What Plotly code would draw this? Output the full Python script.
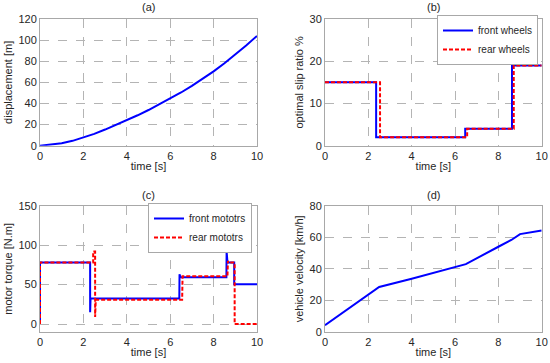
import plotly.graph_objects as go

W, H = 550, 363

# ---------------- data ----------------
# (a) displacement
disp_t = [0, 0.5, 1, 1.5, 2, 2.5, 3, 3.5, 4, 4.5, 5, 5.5, 6, 6.5, 7, 7.5, 8, 8.5, 9, 9.5, 10]
disp_m = [0, 0.8, 2.3, 4.6, 7.6, 11.2, 15.3, 19.6, 24.0, 28.8, 33.8, 39.1, 44.6, 50.4, 56.6, 63.3, 70.4, 78.1, 86.4, 95.0, 104.0]

# (b) optimal slip ratio
slip_front_t = [0, 2.36, 2.36, 6.47, 6.47, 8.63, 8.63, 10]
slip_front = [15, 15, 2, 2, 4, 4, 19, 19]
slip_rear_t = [0, 2.54, 2.54, 6.56, 6.56, 8.71, 8.71, 10]
slip_rear = [15, 15, 2, 2, 4, 4, 19, 19]

# (c) motor torque
torq_front_t = [0, 0, 2.31, 2.31, 2.33, 6.42, 6.43, 6.47, 8.59, 8.60, 8.64, 8.95, 8.95, 10]
torq_front = [0, 78, 78, 15, 32.5, 32.5, 63, 59.5, 59.5, 92, 78, 78, 50.5, 50.5]
torq_rear_t = [0, 0, 2.45, 2.45, 2.54, 2.54, 2.57, 6.55, 6.57, 8.64, 8.66, 8.69, 8.97, 8.97, 10]
torq_rear = [0, 78, 78, 92, 92, 9, 31, 31, 60.5, 60.5, 80, 78, 78, 0, 0]

# (d) vehicle velocity
vel_t = [0, 2, 2.5, 4, 6, 6.5, 8, 8.6, 9, 10]
vel_kmh = [4.3, 24, 28.5, 33.7, 41, 43, 54, 58.3, 62, 64.3]

x_ticks = [0, 2, 4, 6, 8, 10]

# ---------------- styling ----------------
FONT = "Liberation Sans, Arial, Helvetica, sans-serif"
BLUE = "#0000ff"
RED = "#ff0000"
GRID = "#b4b4b4"
BOX = "#a8a8a8"
TXT = "#262626"

def px_x(a, b):
    return [a / W, b / W]

def px_y(top, bottom):
    return [1 - bottom / H, 1 - top / H]

fig = go.Figure()

fig.add_trace(go.Scatter(x=disp_t, y=disp_m, mode="lines", line=dict(color=BLUE, width=2),
                         xaxis="x", yaxis="y", showlegend=False))

fig.add_trace(go.Scatter(x=slip_front_t, y=slip_front, mode="lines", name="front wheels",
                         line=dict(color=BLUE, width=2), xaxis="x2", yaxis="y2", legend="legend"))
fig.add_trace(go.Scatter(x=slip_rear_t, y=slip_rear, mode="lines", name="rear wheels",
                         line=dict(color=RED, width=2, dash="4px,2px"), xaxis="x2", yaxis="y2", legend="legend"))

fig.add_trace(go.Scatter(x=torq_front_t, y=torq_front, mode="lines", name="front mototrs",
                         line=dict(color=BLUE, width=2), xaxis="x3", yaxis="y3", legend="legend2"))
fig.add_trace(go.Scatter(x=torq_rear_t, y=torq_rear, mode="lines", name="rear mototrs",
                         line=dict(color=RED, width=2, dash="4px,2px"), xaxis="x3", yaxis="y3", legend="legend2"))

fig.add_trace(go.Scatter(x=vel_t, y=vel_kmh, mode="lines", line=dict(color=BLUE, width=2),
                         xaxis="x4", yaxis="y4", showlegend=False))

def xaxis(domain, anchor):
    return dict(domain=domain, anchor=anchor, range=[0, 10], tickvals=x_ticks,
                showgrid=True, gridcolor=GRID, griddash="dash", gridwidth=1,
                showline=True, linecolor=BOX, linewidth=1, mirror=True,
                zeroline=False, ticks="", automargin=False,
                tickfont=dict(size=11, color=TXT, family=FONT),
                title=dict(text="time [s]", font=dict(size=11, color=TXT, family=FONT), standoff=1),
                fixedrange=True)

def yaxis(domain, anchor, rng, dtick, label):
    return dict(domain=domain, anchor=anchor, range=rng, tick0=0, dtick=dtick,
                showgrid=True, gridcolor=GRID, griddash="dash", gridwidth=1,
                showline=True, linecolor=BOX, linewidth=1, mirror=True,
                zeroline=False, ticks="", automargin=False,
                tickfont=dict(size=11, color=TXT, family=FONT),
                title=dict(text=label, font=dict(size=11, color=TXT, family=FONT), standoff=3),
                fixedrange=True)

xa_l = px_x(40, 257)
xa_r = px_x(325, 541.7)
ya_t = px_y(19, 145.7)
ya_b = px_y(205.7, 332)

legend_common = dict(bgcolor="white", bordercolor=BOX, borderwidth=1,
                     font=dict(size=10, color=TXT, family=FONT),
                     xanchor="right", yanchor="top", tracegroupgap=0, itemwidth=30)

fig.update_layout(
    width=W, height=H,
    margin=dict(l=0, r=0, t=0, b=0, autoexpand=False),
    paper_bgcolor="white", plot_bgcolor="white",
    font=dict(family=FONT, size=11, color=TXT),
    xaxis=xaxis(xa_l, "y"),
    yaxis=yaxis(ya_t, "x", [0, 120], 20, "displacement [m]"),
    xaxis2=xaxis(xa_r, "y2"),
    yaxis2=yaxis(ya_t, "x2", [0, 30], 10, "optimal slip ratio %"),
    xaxis3=xaxis(xa_l, "y3"),
    yaxis3=yaxis(ya_b, "x3", [-10, 150], 50, "motor torque [N.m]"),
    xaxis4=xaxis(xa_r, "y4"),
    yaxis4=yaxis(ya_b, "x4", [0, 80], 20, "vehicle velocity [km/h]"),
    legend=dict(x=538 / W, y=1 - 15 / H, **legend_common),
    legend2=dict(x=252 / W, y=1 - 203 / H, **legend_common),
    showlegend=True,
)

titles = [("(a)", (40 + 257) / 2, 7), ("(b)", (325 + 541.7) / 2, 7),
          ("(c)", (40 + 257) / 2, 195), ("(d)", (325 + 541.7) / 2, 195)]
for txt, cx, cy in titles:
    fig.add_annotation(text=txt, x=cx / W, y=1 - cy / H, xref="paper", yref="paper",
                       xanchor="center", yanchor="middle", showarrow=False,
                       font=dict(size=11, color=TXT, family=FONT))

fig.write_html("out.html", config={"displayModeBar": False},
               post_script="document.body.style.margin='0';document.body.style.overflow='hidden';")
